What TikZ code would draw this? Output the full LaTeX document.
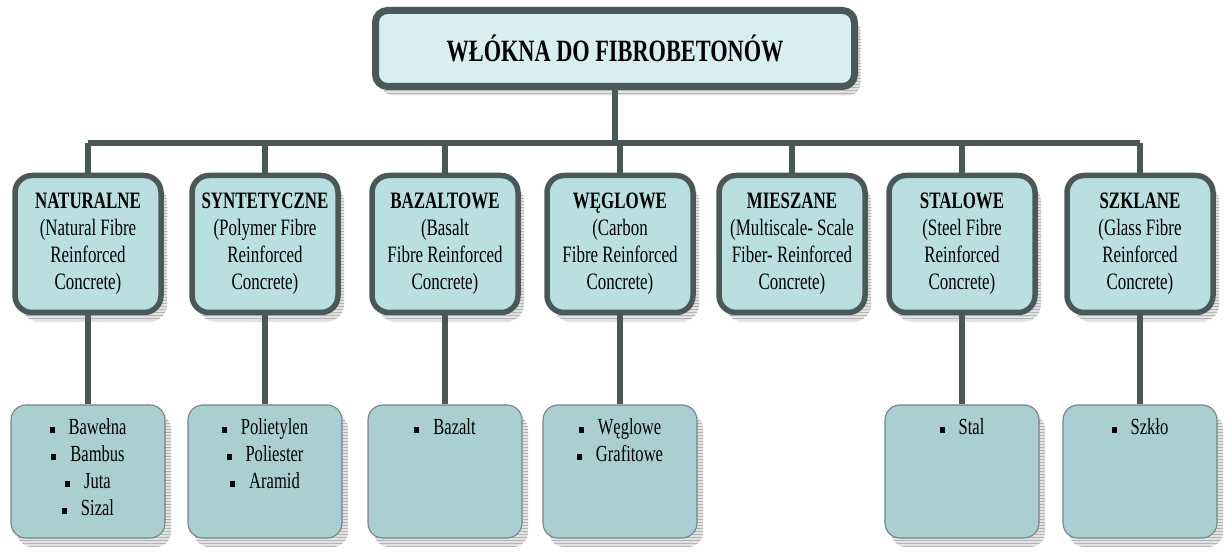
\documentclass[tikz,border=0pt]{standalone}
\usepackage{fontspec}
\setmainfont{Liberation Serif}[FakeStretch=0.72]
\usetikzlibrary{shadows,patterns}
\definecolor{edge}{HTML}{4B5858}
\definecolor{topfill}{HTML}{D8EEF1}
\definecolor{midfill}{HTML}{B9DFE3}
\definecolor{lowfill}{HTML}{AACFD2}
\newcommand{\itm}[1]{\rule[2pt]{5pt}{6pt}\hspace{14pt}#1}
\tikzset{
  stripeshadow/.style={drop shadow={shadow xshift=6pt,shadow yshift=-9pt,
      fill=gray!45,draw=none,
      postaction={pattern=horizontal lines,pattern color=gray!95}}},
  rootbox/.style={draw=edge,line width=7pt,fill=topfill,rounded corners=12pt,
      minimum width=479pt,minimum height=76pt,inner sep=0pt,stripeshadow,
      font=\fontsize{31}{36}\selectfont\bfseries},
  kindbox/.style={draw=edge,line width=5.5pt,fill=midfill,rounded corners=17pt,
      minimum width=146pt,minimum height=137pt,inner sep=0pt,stripeshadow,
      align=center,font=\fontsize{23.5}{27}\selectfont},
  itembox/.style={draw=edge!75,line width=1.1pt,fill=lowfill,rounded corners=15pt,
      minimum width=154pt,minimum height=133pt,inner sep=0pt,stripeshadow},
  itemtext/.style={anchor=north,align=center,inner sep=0pt,
      font=\fontsize{23}{27}\selectfont},
  link/.style={draw=edge,line width=6pt}
}
\begin{document}
\begin{tikzpicture}[x=1pt,y=-1pt]
\useasboundingbox (0,0) rectangle (1227,553);

% root
\node[rootbox] (root) at (615,48.5) {WŁÓKNA DO FIBROBETONÓW};

% fibre kinds
\node[kindbox] (nat) at (88,244)   {\textbf{NATURALNE}\\(Natural Fibre\\Reinforced\\Concrete)};
\node[kindbox] (syn) at (265,244)  {\textbf{SYNTETYCZNE}\\(Polymer Fibre\\Reinforced\\Concrete)};
\node[kindbox] (baz) at (445,244)  {\textbf{BAZALTOWE}\\(Basalt\\Fibre Reinforced\\Concrete)};
\node[kindbox] (weg) at (620,244)  {\textbf{WĘGLOWE}\\(Carbon\\Fibre Reinforced\\Concrete)};
\node[kindbox] (mix) at (792,244)  {\textbf{MIESZANE}\\(Multiscale- Scale\\Fiber- Reinforced\\Concrete)};
\node[kindbox] (sta) at (962,244)  {\textbf{STALOWE}\\(Steel Fibre\\Reinforced\\Concrete)};
\node[kindbox] (szk) at (1140,244) {\textbf{SZKLANE}\\(Glass Fibre\\Reinforced\\Concrete)};

% examples, each centred under its kind
\foreach \k in {nat,syn,baz,weg,sta,szk}
  \node[itembox] (\k L) at (\k.center |- 0,471.5) {};

\node[itemtext] (natT) at ([yshift=-14pt]natL.north) {\itm{Bawełna}\\\itm{Bambus}\\\itm{Juta}\\\itm{Sizal}};
\node[itemtext] (synT) at ([yshift=-14pt]synL.north) {\itm{Polietylen}\\\itm{Poliester}\\\itm{Aramid}};
\node[itemtext] (bazT) at ([yshift=-14pt]bazL.north) {\itm{Bazalt}};
\node[itemtext] (wegT) at ([yshift=-14pt]wegL.north) {\itm{Węglowe}\\\itm{Grafitowe}};
\node[itemtext] (staT) at ([yshift=-14pt]staL.north) {\itm{Stal}};
\node[itemtext] (szkT) at ([yshift=-14pt]szkL.north) {\itm{Szkło}};

% tree connectors
\coordinate (bar) at (615,143.5);
\draw[link] (root.south) -- (bar);
\draw[link] (nat.north |- bar) -- (szk.north |- bar);
\foreach \k in {nat,syn,baz,weg,mix,sta,szk}
  \draw[link] (\k.north |- bar) -- (\k.north);
\foreach \k in {nat,syn,baz,weg,sta,szk}
  \draw[link] (\k.south) -- (\k L.north);
\end{tikzpicture}
\end{document}
